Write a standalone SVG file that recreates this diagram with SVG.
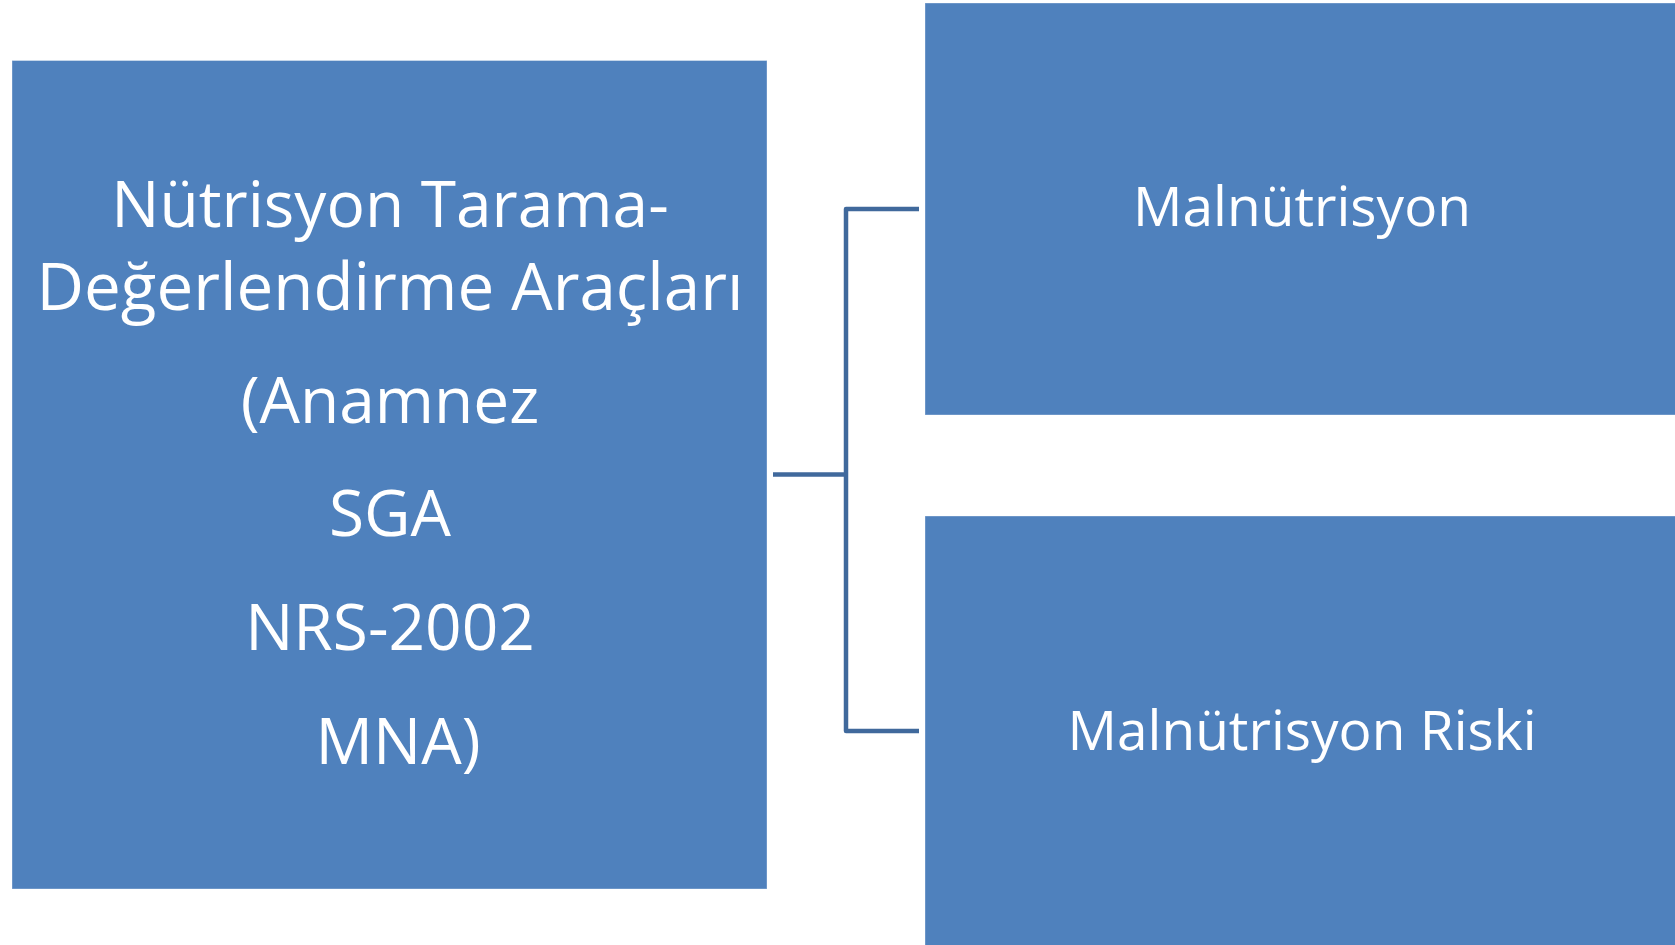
<svg xmlns="http://www.w3.org/2000/svg" width="1675" height="945" viewBox="0 0 1675 945">
<style>
.box{fill:#4F81BD;stroke:#FFFFFF;stroke-opacity:0.35;stroke-width:1}
.t{font-family:"Open Sans","DejaVu Sans",sans-serif;fill:#FFFFFF;text-anchor:middle}
.big{font-size:64px}
.small{font-size:55px}
.conn{fill:none;stroke:#40699C;stroke-width:4.5;stroke-linejoin:round}
</style>
<rect width="1675" height="945" fill="#FFFFFF"/>
<g id="connectors">
<path class="conn" d="M773 474.5H846"/>
<path class="conn" d="M919 209H846V731H919"/>
</g>
<g id="node-tools">
<rect class="box" x="12" y="60.5" width="755" height="828.5"/>
<text class="t big" x="390" y="227">Nütrisyon Tarama-</text>
<text class="t big" x="390" y="310" style="font-size:65.5px">Değerlendirme Araçları</text>
<text class="t big" x="390" y="423">(Anamnez</text>
<text class="t big" x="390" y="536">SGA</text>
<text class="t big" x="390" y="650">NRS-2002</text>
<text class="t big" x="398" y="764">MNA)</text>
</g>
<g id="node-malnutrisyon">
<rect class="box" x="925" y="3" width="760" height="412"/>
<text class="t small" x="1302" y="226">Malnütrisyon</text>
</g>
<g id="node-risk">
<rect class="box" x="925" y="516" width="760" height="440"/>
<text class="t small" x="1302" y="750">Malnütrisyon Riski</text>
</g>
</svg>
